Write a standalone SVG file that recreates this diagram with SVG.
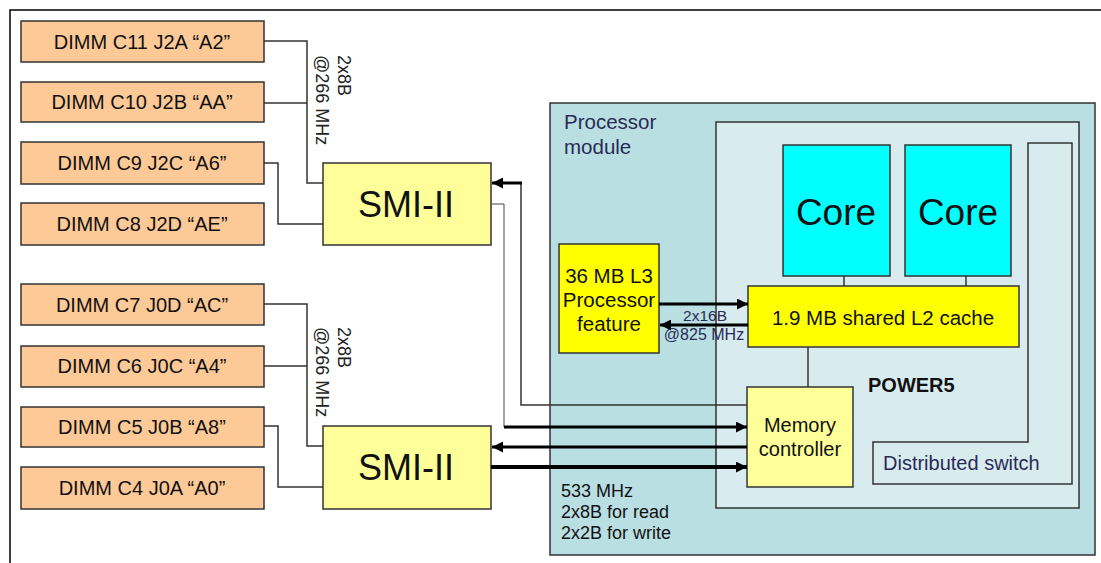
<svg xmlns="http://www.w3.org/2000/svg" width="1101" height="563" viewBox="0 0 1101 563">
<defs>
<marker id="ah" viewBox="0 0 10 10" refX="10" refY="5" markerWidth="11" markerHeight="11" markerUnits="userSpaceOnUse" orient="auto">
<path d="M0,0 L10,5 L0,10 Z" fill="#000"/>
</marker>
</defs>
<style>
text{font-family:"Liberation Sans",Arial,sans-serif;fill:#111}
.dimm rect{fill:#fdc997;stroke:#333;stroke-width:1.5}
.dimm text{font-size:20px;text-anchor:middle}
.smi rect{fill:#ffff99;stroke:#333;stroke-width:1.5}
.smi text{font-size:36px;text-anchor:middle}
.yel{fill:#ffff00;stroke:#333;stroke-width:1.5}
.core{fill:#00ffff;stroke:#333;stroke-width:1.5}
.wire{fill:none;stroke:#333;stroke-width:1.5}
.thin{fill:none;stroke:#444;stroke-width:1}
.bus{fill:none;stroke:#000;stroke-width:3}
.lbl{font-size:18px;fill:#222}
.blue{fill:#2a2a55}
</style>
<path d="M10,563 V10 H1101" fill="none" stroke="#000" stroke-width="1.5"/>

<g id="processor-module">
<rect x="550" y="103" width="545" height="452" fill="#b9dfe3" stroke="#333" stroke-width="1.5"/>
<text x="564" y="129" font-size="20.5" class="blue">Processor</text>
<text x="564" y="154" font-size="20.5" class="blue">module</text>
<text x="561" y="497" font-size="18">533 MHz</text>
<text x="561" y="518" font-size="18">2x8B for read</text>
<text x="561" y="539" font-size="18">2x2B for write</text>
</g>

<g id="power5">
<rect x="716" y="122" width="363" height="386" fill="#d8ecef" stroke="#333" stroke-width="1.5"/>
<text x="868" y="392" font-size="20" font-weight="bold">POWER5</text>
</g>

<g id="distributed-switch">
<path d="M1028,143 H1072 V484 H873 V442 H1028 Z" fill="#d8ecef" stroke="#333" stroke-width="1.5"/>
<text x="883" y="470" font-size="20" class="blue">Distributed switch</text>
</g>

<g id="dimm-c11" class="dimm"><rect x="21" y="21" width="243" height="41"/><text x="142" y="49">DIMM C11 J2A “A2”</text></g>
<g id="dimm-c10" class="dimm"><rect x="21" y="82" width="243" height="40"/><text x="142" y="109">DIMM C10 J2B “AA”</text></g>
<g id="dimm-c9" class="dimm"><rect x="21" y="142" width="243" height="42"/><text x="142" y="170">DIMM C9 J2C “A6”</text></g>
<g id="dimm-c8" class="dimm"><rect x="21" y="203" width="243" height="42"/><text x="142" y="231">DIMM C8 J2D “AE”</text></g>
<g id="dimm-c7" class="dimm"><rect x="21" y="284" width="243" height="41"/><text x="142" y="312">DIMM C7 J0D “AC”</text></g>
<g id="dimm-c6" class="dimm"><rect x="21" y="346" width="243" height="41"/><text x="142" y="373">DIMM C6 J0C “A4”</text></g>
<g id="dimm-c5" class="dimm"><rect x="21" y="407" width="243" height="40"/><text x="142" y="434">DIMM C5 J0B “A8”</text></g>
<g id="dimm-c4" class="dimm"><rect x="21" y="467" width="243" height="42"/><text x="142" y="495">DIMM C4 J0A “A0”</text></g>

<g id="smi-top" class="smi"><rect x="323" y="163" width="168" height="82"/><text x="406" y="217">SMI-II</text></g>
<g id="smi-bottom" class="smi"><rect x="323" y="426" width="168" height="83"/><text x="406" y="480">SMI-II</text></g>

<g id="l3">
<rect x="559" y="244" width="100" height="109" class="yel"/>
<text x="609" y="283" font-size="20.5" text-anchor="middle">36 MB L3</text>
<text x="609" y="307" font-size="20.5" text-anchor="middle">Processor</text>
<text x="609" y="331" font-size="20.5" text-anchor="middle">feature</text>
</g>

<g id="l2">
<rect x="748" y="286" width="271" height="61" class="yel"/>
<text x="883" y="325" font-size="20.5" text-anchor="middle">1.9 MB shared L2 cache</text>
</g>

<g id="core1"><rect x="783" y="145" width="107" height="131" class="core"/><text x="836" y="225" font-size="37" text-anchor="middle">Core</text></g>
<g id="core2"><rect x="905" y="145" width="106" height="131" class="core"/><text x="958" y="225" font-size="37" text-anchor="middle">Core</text></g>

<g id="memory-controller">
<rect x="747" y="387" width="106" height="100" fill="#ffff99" stroke="#333" stroke-width="1.5"/>
<text x="800" y="432" font-size="20" text-anchor="middle">Memory</text>
<text x="800" y="456" font-size="20" text-anchor="middle">controller</text>
</g>

<g id="connectors">
<path class="wire" d="M264,41 H307 V183 H323 M264,103 H307"/>
<path class="wire" d="M264,163 H278 V224 H323"/>
<path class="wire" d="M264,304 H307 V446 H323 M264,366 H307"/>
<path class="wire" d="M264,426 H278 V487 H323"/>
<text class="lbl" transform="translate(338,55) rotate(90)">2x8B</text>
<text class="lbl" transform="translate(316,55) rotate(90)">@266 MHz</text>
<text class="lbl" transform="translate(338,327) rotate(90)">2x8B</text>
<text class="lbl" transform="translate(316,327) rotate(90)">@266 MHz</text>

<line x1="844" y1="276" x2="844" y2="286" class="wire"/>
<line x1="966" y1="276" x2="966" y2="286" class="wire"/>
<line x1="808" y1="347" x2="808" y2="387" class="wire"/>

<line x1="659" y1="304" x2="748" y2="304" class="bus" marker-end="url(#ah)"/>
<line x1="748" y1="325" x2="660" y2="325" class="bus" marker-end="url(#ah)"/>
<text x="705" y="321" font-size="15.5" text-anchor="middle" style="fill:#2a2a55">2x16B</text>
<text x="704" y="340" font-size="16" text-anchor="middle" style="fill:#2a2a55">@825 MHz</text>

<path class="wire" d="M747,405 H521 V183" stroke="#222"/>
<line x1="522" y1="183" x2="492" y2="183" class="bus" marker-end="url(#ah)"/>
<path class="thin" d="M491,204 H504 V427"/>
<line x1="504" y1="427" x2="747" y2="427" class="bus" marker-end="url(#ah)"/>
<line x1="747" y1="447" x2="492" y2="447" class="bus" marker-end="url(#ah)"/>
<line x1="491" y1="467" x2="747" y2="467" stroke="#000" stroke-width="4" marker-end="url(#ah)"/>
</g>
</svg>
